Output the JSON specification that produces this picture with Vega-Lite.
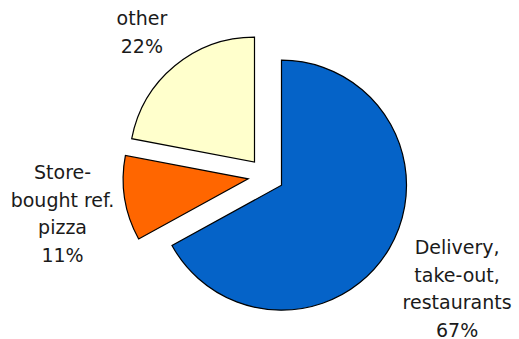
{
  "$schema": "https://vega.github.io/schema/vega-lite/v6.json",
  "width": 506,
  "height": 326,
  "autosize": {"type": "none"},
  "padding": {"left": 13, "top": 13, "right": 0, "bottom": 0},
  "background": "white",
  "view": {"stroke": null},
  "data": {
    "values": [
      {"category": "Delivery, take-out, restaurants", "share": 67, "order": 1, "label": ["Delivery,", "take-out,", "restaurants", "67%"]},
      {"category": "Store-bought ref. pizza", "share": 11, "order": 2, "label": ["Store-", "bought ref.", "pizza", "11%"]},
      {"category": "other", "share": 22, "order": 3, "label": ["other", "22%"]}
    ]
  },
  "transform": [
    {"stack": "share", "groupby": [], "sort": [{"field": "order"}], "as": ["start", "end"]},
    {"calculate": "(datum.start + datum.end) / 2", "as": "mid"}
  ],
  "layer": [
    {
      "transform": [{"filter": "datum.order == 1"}],
      "mark": {"type": "arc", "outerRadius": 125, "stroke": "black", "strokeWidth": 1.2, "xOffset": 15.5, "yOffset": 9.2},
      "encoding": {
        "theta": {"field": "start", "type": "quantitative", "stack": null, "scale": {"domain": [0, 100], "range": [0, 6.283185307]}},
        "theta2": {"field": "end"},
        "color": {"field": "category", "type": "nominal", "legend": null, "scale": {"domain": ["Delivery, take-out, restaurants", "Store-bought ref. pizza", "other"], "range": ["#0563C8", "#FF6600", "#FFFFCC"]}}
      }
    },
    {
      "transform": [{"filter": "datum.order == 2"}],
      "mark": {"type": "arc", "outerRadius": 125, "stroke": "black", "strokeWidth": 1.2, "xOffset": -17.8, "yOffset": 2.8},
      "encoding": {
        "theta": {"field": "start", "type": "quantitative", "stack": null, "scale": {"domain": [0, 100], "range": [0, 6.283185307]}},
        "theta2": {"field": "end"},
        "color": {"field": "category", "type": "nominal", "legend": null, "scale": {"domain": ["Delivery, take-out, restaurants", "Store-bought ref. pizza", "other"], "range": ["#0563C8", "#FF6600", "#FFFFCC"]}}
      }
    },
    {
      "transform": [{"filter": "datum.order == 3"}],
      "mark": {"type": "arc", "outerRadius": 125, "stroke": "black", "strokeWidth": 1.2, "xOffset": -11.5, "yOffset": -13.9},
      "encoding": {
        "theta": {"field": "start", "type": "quantitative", "stack": null, "scale": {"domain": [0, 100], "range": [0, 6.283185307]}},
        "theta2": {"field": "end"},
        "color": {"field": "category", "type": "nominal", "legend": null, "scale": {"domain": ["Delivery, take-out, restaurants", "Store-bought ref. pizza", "other"], "range": ["#0563C8", "#FF6600", "#FFFFCC"]}}
      }
    },
    {
      "transform": [{"filter": "datum.order == 1"}],
      "mark": {"type": "text", "radius": 222, "dy": -41, "font": "DejaVu Sans", "fontSize": 19, "color": "#1a1a1a", "align": "center", "baseline": "middle", "lineHeight": 27.5},
      "encoding": {
        "theta": {"field": "mid", "type": "quantitative", "stack": null, "scale": {"domain": [0, 100], "range": [0, 6.283185307]}},
        "text": {"field": "label"}
      }
    },
    {
      "transform": [{"filter": "datum.order == 2"}],
      "mark": {"type": "text", "radius": 206, "dy": -35, "font": "DejaVu Sans", "fontSize": 19, "color": "#1a1a1a", "align": "center", "baseline": "middle", "lineHeight": 27.5},
      "encoding": {
        "theta": {"field": "mid", "type": "quantitative", "stack": null, "scale": {"domain": [0, 100], "range": [0, 6.283185307]}},
        "text": {"field": "label"}
      }
    },
    {
      "transform": [{"filter": "datum.order == 3"}],
      "mark": {"type": "text", "radius": 190, "dx": -3, "dy": -11, "font": "DejaVu Sans", "fontSize": 19, "color": "#1a1a1a", "align": "center", "baseline": "middle", "lineHeight": 28},
      "encoding": {
        "theta": {"field": "mid", "type": "quantitative", "stack": null, "scale": {"domain": [0, 100], "range": [0, 6.283185307]}},
        "text": {"field": "label"}
      }
    }
  ]
}
